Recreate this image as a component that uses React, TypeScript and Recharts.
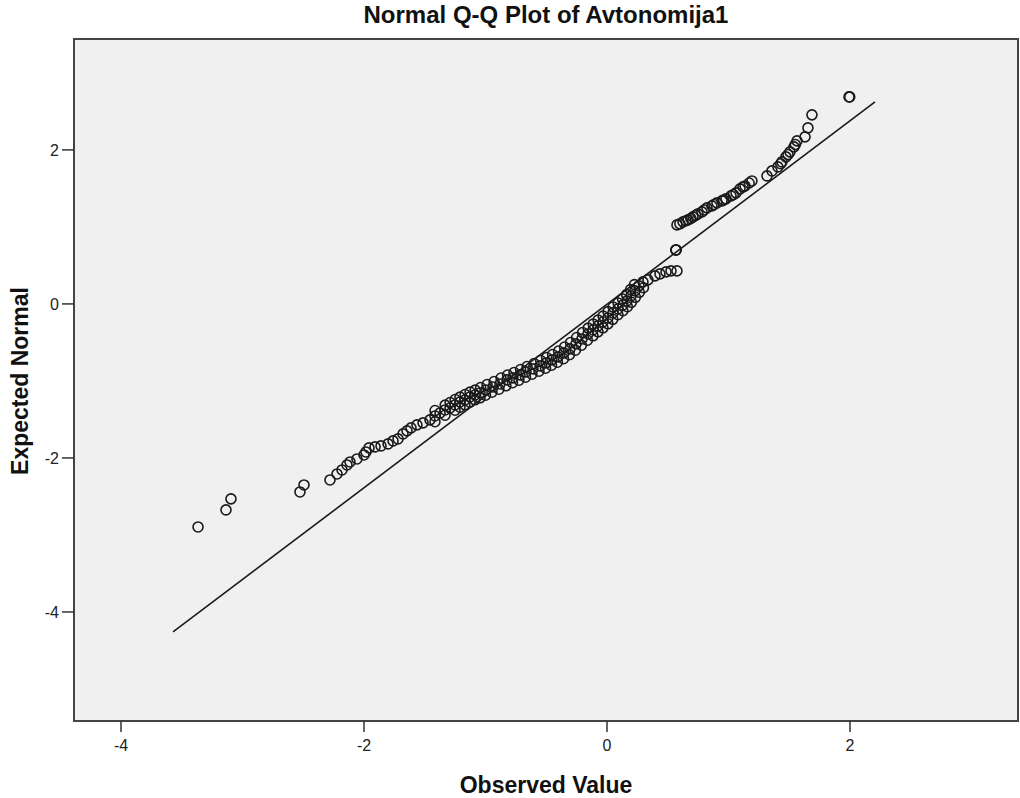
import React from 'react';
import { ScatterChart, Scatter, XAxis, YAxis, ReferenceArea, ReferenceLine } from 'recharts';

const FONT = '"Liberation Sans", Arial, Helvetica, sans-serif';

const chartTitle = 'Normal Q-Q Plot of Avtonomija1';
const xAxisTitle = 'Observed Value';
const yAxisTitle = 'Expected Normal';

const xTicks = [-4, -2, 0, 2];
const yTicks = [-4, -2, 0, 2];
const xDomain = [-4.387, 3.383];
const yDomain = [-5.416, 3.44];

// Reference line of the fitted normal distribution
const lineObserved = [-3.572, 2.206];
const lineExpected = [-4.26, 2.623];

// Lower tail
const lowerTailObserved = [
  -3.366, -3.136, -3.095, -2.527, -2.494, -2.28, -2.222, -2.181, -2.14, -2.115,
  -2.058, -2.0, -1.984, -1.959, -1.909, -1.86, -1.802, -1.761, -1.72, -1.679,
  -1.646, -1.613, -1.564, -1.514,
];
const lowerTailExpected = [
  -2.896, -2.675, -2.532, -2.442, -2.351, -2.286, -2.208, -2.156, -2.091, -2.052,
  -2.013, -1.961, -1.922, -1.87, -1.857, -1.844, -1.818, -1.779, -1.753, -1.688,
  -1.649, -1.61, -1.571, -1.545,
];

// Central band
const centralObserved = [
  -1.457, -1.416, -1.374, -1.333, -1.292, -1.251, -1.21, -1.169, -1.128, -1.086,
  -1.045, -0.996, -0.938, -0.881, -0.823, -0.774, -0.716, -0.667, -0.609, -0.551,
  -0.502, -0.453, -0.403, -0.354, -0.305, -0.255, -0.206, -0.156, -0.115, -0.074,
  -0.033, 0.008, 0.049, 0.091, 0.132, 0.165, 0.198, 0.23, 0.263, 0.296,
  0.337, 0.395, 0.436, 0.486, 0.527, 0.576,
];
const centralExpected = [
  -1.506, -1.455, -1.416, -1.377, -1.351, -1.312, -1.273, -1.247, -1.208, -1.182,
  -1.156, -1.117, -1.078, -1.039, -0.987, -0.961, -0.922, -0.883, -0.844, -0.805,
  -0.766, -0.727, -0.688, -0.636, -0.584, -0.519, -0.455, -0.39, -0.338, -0.286,
  -0.234, -0.182, -0.117, -0.065, -0.013, 0.039, 0.104, 0.169, 0.234, 0.286,
  0.312, 0.364, 0.39, 0.416, 0.429, 0.429,
];

// Neighbouring cases inside the central band
const bandObserved = [
  -1.416, -1.415, -1.333, -1.332, -1.251, -1.25, -1.17, -1.168, -1.087, -1.085,
  -1.0, -0.987, -0.889, -0.872, -0.778, -0.765, -0.671, -0.658, -0.56, -0.546,
  -0.457, -0.448, -0.358, -0.349, -0.26, -0.25, -0.161, -0.155, -0.074, -0.073,
  0.008, 0.008, 0.09, 0.091, 0.168, 0.161, 0.234, 0.226, 0.3,
];
const bandExpected = [
  -1.53, -1.385, -1.446, -1.314, -1.381, -1.242, -1.31, -1.177, -1.245, -1.119,
  -1.186, -1.047, -1.108, -0.963, -1.024, -0.891, -0.952, -0.813, -0.874, -0.735,
  -0.796, -0.657, -0.712, -0.56, -0.601, -0.437, -0.472, -0.314, -0.362, -0.21,
  -0.258, -0.1, -0.141, 0.011, -0.037, 0.121, 0.086, 0.251, 0.21,
];

const bandOuterObserved = [
  -1.291, -1.21, -1.21, -1.128, -1.127, -1.045, -1.04, -0.947, -0.929, -0.832,
  -0.818, -0.725, -0.711, -0.618, -0.6, -0.506, -0.497, -0.408, -0.398, -0.309,
  -0.3, -0.21, -0.201, -0.115, -0.114, -0.033, -0.032, 0.048, 0.05, 0.131,
  0.128, 0.201, 0.194, 0.266,
];
const bandOuterExpected = [
  -1.281, -1.342, -1.21, -1.277, -1.145, -1.219, -1.086, -1.147, -1.008, -1.063,
  -0.924, -0.991, -0.852, -0.913, -0.774, -0.835, -0.696, -0.757, -0.612, -0.66,
  -0.501, -0.537, -0.372, -0.414, -0.262, -0.31, -0.158, -0.2, -0.041, -0.089,
  0.063, 0.021, 0.186, 0.151,
];

// Tied cases
const tiedObserved = [0.568, 0.568, 0.568];
const tiedExpected = [0.701, 0.701, 0.701];

// Upper tail
const upperTailObserved = [
  0.576, 0.626, 0.667, 0.708, 0.749, 0.782, 0.823, 0.864, 0.905, 0.947,
  0.979, 1.021, 1.062, 1.095, 1.136, 1.193, 1.317, 1.358, 1.407, 1.44,
  1.473, 1.506, 1.539, 1.564, 1.63, 1.654, 1.687, 1.992, 1.998,
  0.6, 0.65, 0.69, 0.73, 0.8, 0.88, 0.96, 1.04, 1.12, 1.17, 1.43, 1.49, 1.55,
];
const upperTailExpected = [
  1.026, 1.065, 1.091, 1.13, 1.169, 1.195, 1.247, 1.273, 1.312, 1.338,
  1.364, 1.403, 1.442, 1.494, 1.532, 1.597, 1.662, 1.727, 1.779, 1.844,
  1.909, 1.974, 2.039, 2.117, 2.169, 2.286, 2.455, 2.688, 2.688,
  1.04, 1.08, 1.11, 1.15, 1.22, 1.29, 1.35, 1.42, 1.52, 1.57, 1.82, 1.94, 2.07,
];

const toPoints = (obs: number[], exp: number[]) => obs.map((x, i) => ({ x, y: exp[i] }));

const points = [
  ...toPoints(lowerTailObserved, lowerTailExpected),
  ...toPoints(centralObserved, centralExpected),
  ...toPoints(bandObserved, bandExpected),
  ...toPoints(bandOuterObserved, bandOuterExpected),
  ...toPoints(tiedObserved, tiedExpected),
  ...toPoints(upperTailObserved, upperTailExpected),
];

const Ring = (props: any) => (
  <circle cx={props.cx} cy={props.cy} r={5} fill="none" stroke="#1a1a1a" strokeWidth={1.6} />
);

const W = 1020;
const H = 798;

export default function App() {
  return (
    <div style={{ position: 'absolute', left: 0, top: 0, width: W, height: H, background: '#fff', fontFamily: FONT }}>
      <div
        style={{
          position: 'absolute', left: 74, width: 944, top: 2, textAlign: 'center',
          fontSize: 24, fontWeight: 'bold', color: '#111', lineHeight: '26px',
        }}
      >
        {chartTitle}
      </div>
      <div
        style={{
          position: 'absolute', left: 74, width: 944, top: 772, textAlign: 'center',
          fontSize: 23, fontWeight: 'bold', color: '#111', lineHeight: '26px',
        }}
      >
        {xAxisTitle}
      </div>
      <div
        style={{
          position: 'absolute', left: 20 - 150, top: 381 - 13, width: 300, textAlign: 'center',
          fontSize: 23, fontWeight: 'bold', color: '#111', lineHeight: '26px',
          transform: 'rotate(-90deg)', transformOrigin: '150px 13px',
        }}
      >
        {yAxisTitle}
      </div>
      <ScatterChart width={W} height={H} margin={{ top: 39, right: 2, bottom: 37, left: 14 }}>
        <XAxis
          dataKey="x"
          type="number"
          domain={xDomain}
          ticks={xTicks}
          allowDataOverflow
          height={40}
          axisLine={false}
          tickSize={11}
          tickMargin={8}
          tickLine={{ stroke: '#333', strokeWidth: 1.5 }}
          tick={{ fill: '#222', fontSize: 16, fontFamily: FONT }}
        />
        <YAxis
          dataKey="y"
          type="number"
          domain={yDomain}
          ticks={yTicks}
          allowDataOverflow
          width={60}
          axisLine={false}
          tickSize={12}
          tickMargin={3}
          tickLine={{ stroke: '#333', strokeWidth: 1.5 }}
          tick={{ fill: '#222', fontSize: 16, fontFamily: FONT }}
        />
        <ReferenceArea
          x1={xDomain[0]}
          x2={xDomain[1]}
          y1={yDomain[0]}
          y2={yDomain[1]}
          fill="#f0f0f0"
          fillOpacity={1}
          stroke="#444"
          strokeWidth={2}
        />
        <ReferenceLine
          segment={[
            { x: lineObserved[0], y: lineExpected[0] },
            { x: lineObserved[1], y: lineExpected[1] },
          ]}
          stroke="#1a1a1a"
          strokeWidth={1.6}
        />
        <Scatter data={points} shape={Ring} isAnimationActive={false} />
      </ScatterChart>
    </div>
  );
}
